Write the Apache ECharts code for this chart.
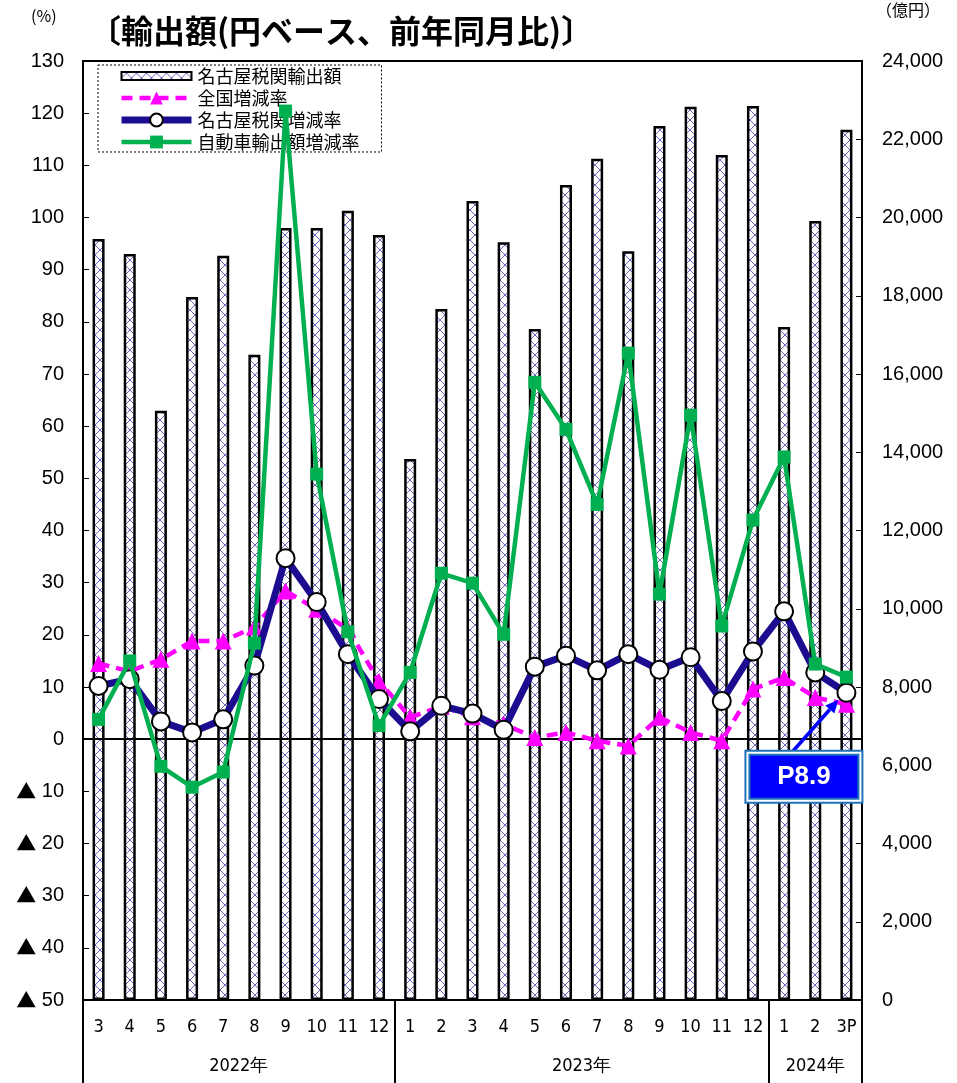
<!DOCTYPE html>
<html>
<head>
<meta charset="utf-8">
<style>
  html, body { margin: 0; padding: 0; background: #fff; }
  #chart { width: 957px; height: 1083px; }
</style>
<script src="https://cdn.jsdelivr.net/npm/echarts@6/dist/echarts.min.js"></script>
</head>
<body>
<div id="chart"></div>
<script>
// Months shown on the category axis, grouped by year below
const months = ['3','4','5','6','7','8','9','10','11','12',
                '1','2','3','4','5','6','7','8','9','10','11','12',
                '1','2','3P'];
const yearLabels = ['2022年', '2023年', '2024年'];
const monthsPerYear = [10, 12, 3];

// 名古屋税関輸出額 (億円)
const exportAmount = [19450, 19070, 15060, 17970, 19020, 16490, 19730, 19730, 20170, 19550,
                      13830, 17660, 20420, 19370, 17150, 20830, 21500, 19140, 22340, 22830, 21600, 22850,
                      17200, 19910, 22240];
// 全国増減率 (%)
const nationalRate = [14.5, 13.0, 15.3, 18.8, 18.8, 21.5, 28.4, 24.9, 21.1, 11.1,
                      4.2, 6.3, 4.3, 2.9, 0.3, 1.3, -0.3, -1.3, 4.2, 1.3, -0.3, 9.6,
                      11.8, 8.0, 6.7];
// 名古屋税関増減率 (%)
const nagoyaRate = [10.2, 11.5, 3.4, 1.3, 3.8, 14.1, 34.7, 26.3, 16.3, 7.7,
                    1.5, 6.4, 4.9, 1.8, 13.9, 16.0, 13.2, 16.3, 13.3, 15.7, 7.3, 16.8,
                    24.5, 12.8, 8.9];
// 自動車輸出額増減率 (%)
const carRate = [3.8, 15.0, -5.2, -9.2, -6.3, 18.4, 120.4, 50.8, 20.6, 2.6,
                 12.8, 31.8, 29.9, 20.1, 68.4, 59.4, 45.0, 74.0, 27.8, 62.1, 21.7, 42.0,
                 54.1, 14.4, 11.9];

const latestLabel = 'P' + nagoyaRate[nagoyaRate.length - 1].toFixed(1);

// Year group boundaries and centres along the month axis
const yearBounds = [0];
const yearCentres = [];
monthsPerYear.forEach(function (n) {
  const start = yearBounds[yearBounds.length - 1];
  yearCentres.push(start + n / 2);
  yearBounds.push(start + n);
});

// Light cross-hatch fill for the bars
function hatchPattern() {
  const s = 10;
  const c = document.createElement('canvas');
  c.width = s; c.height = s;
  const g = c.getContext('2d');
  g.fillStyle = '#ffffff';
  g.fillRect(0, 0, s, s);
  g.fillStyle = '#6a68bb';
  for (let i = 0; i < s; i++) {
    g.fillRect(i, i, 1, 1);
    g.fillRect(s - 1 - i, i, 1, 1);
  }
  return c;
}

const numFont = '"Liberation Sans", Arial, sans-serif';
const narrowFont = '"Liberation Sans Narrow", "DejaVu Sans Condensed", "Liberation Sans", sans-serif';
const cjkFont = '"Noto Sans CJK JP", "Noto Sans", sans-serif';

// Legend swatch for the bars: a thin strip centred in the taller icon box
const barLegendIcon = 'path://M0,0 M0,4 L70,4 L70,12 L0,12 Z M70,16';

const chart = echarts.init(document.getElementById('chart'), null, { renderer: 'canvas' });

const corner = [
  { type: 'text', left: 31, top: 8,
    style: { text: '(%)', fontFamily: cjkFont, fontSize: 16, fill: '#000' } },
  { type: 'text', left: 876, top: 2,
    style: { text: '（億円）', fontFamily: cjkFont, fontSize: 16, fill: '#000' } }
];

const option = {
  animation: false,
  backgroundColor: '#ffffff',
  textStyle: { fontFamily: cjkFont, color: '#000' },
  title: {
    text: '〔輸出額(円ベース、前年同月比)〕',
    left: 84, top: 10,
    textStyle: { fontFamily: cjkFont, fontSize: 32, fontWeight: 'bold', color: '#000' }
  },
  grid: {
    left: 83, right: 95, top: 61, bottom: 83,
    show: true, borderColor: '#000', borderWidth: 2
  },
  legend: {
    orient: 'vertical',
    left: 98, top: 65,
    padding: [2, 22, 1, 20],
    itemWidth: 70, itemHeight: 16, itemGap: 4,
    borderColor: '#000', borderWidth: 1, borderType: [2, 2],
    backgroundColor: '#fff',
    lineStyle: { width: 'inherit', type: 'inherit' },
    textStyle: { fontFamily: cjkFont, fontSize: 18, lineHeight: 16, color: '#000', padding: [0, 0, 0, 1] },
    data: [
      { name: '名古屋税関輸出額', icon: barLegendIcon },
      '全国増減率', '名古屋税関増減率', '自動車輸出額増減率'
    ]
  },
  xAxis: [
    {
      type: 'category',
      data: months,
      position: 'bottom',
      axisLine: { show: true, lineStyle: { color: '#000', width: 2 } },
      axisTick: { show: false },
      axisLabel: { margin: 18, fontFamily: narrowFont, fontSize: 18, color: '#000' },
      splitLine: { show: false }
    },
    {
      // Year groups under the months, with separators between them
      type: 'value',
      position: 'bottom',
      min: 0, max: months.length,
      axisLine: { show: false },
      axisTick: {
        show: true, length: 83, customValues: yearBounds,
        lineStyle: { color: '#000', width: 2 }
      },
      axisLabel: {
        show: true, margin: 57, customValues: yearCentres,
        fontFamily: narrowFont, fontSize: 18, color: '#000',
        formatter: function (v) {
          const i = yearCentres.indexOf(v);
          return i >= 0 ? yearLabels[i] : '';
        }
      },
      splitLine: { show: false }
    }
  ],
  yAxis: [
    {
      type: 'value',
      min: -50, max: 130, interval: 10,
      axisLine: { show: true, lineStyle: { color: '#000', width: 2 } },
      axisTick: { show: true, inside: true, length: 6, lineStyle: { color: '#000', width: 1 } },
      axisLabel: {
        margin: 19, fontFamily: numFont, fontSize: 20, color: '#000',
        formatter: function (v) { return v < 0 ? '{tri|▲} ' + (-v) : String(v); },
        rich: { tri: { fontFamily: cjkFont, fontSize: 20, color: '#000' } }
      },
      splitLine: { show: false }
    },
    {
      type: 'value',
      min: 0, max: 24000, interval: 2000,
      axisLine: { show: true, lineStyle: { color: '#000', width: 2 } },
      axisTick: { show: true, inside: true, length: 6, lineStyle: { color: '#000', width: 1 } },
      axisLabel: {
        margin: 20, fontFamily: numFont, fontSize: 20, color: '#000',
        formatter: function (v) { return v.toLocaleString('en-US'); }
      },
      splitLine: { show: false }
    }
  ],
  series: [
    {
      name: '名古屋税関輸出額',
      type: 'bar',
      xAxisIndex: 0, yAxisIndex: 1,
      data: exportAmount,
      barWidth: 12,
      z: 1,
      itemStyle: {
        color: { image: hatchPattern(), repeat: 'repeat' },
        borderColor: '#000', borderWidth: 2.5
      }
    },
    {
      name: '全国増減率',
      type: 'line',
      xAxisIndex: 0, yAxisIndex: 0,
      data: nationalRate,
      z: 3,
      symbol: 'triangle', symbolSize: 17,
      lineStyle: { color: '#ff00ff', width: 4.5, type: [11, 7] },
      itemStyle: { color: '#ff00ff', borderWidth: 0 },
      markLine: {
        silent: true, symbol: 'none', z: 2,
        label: { show: false },
        lineStyle: { color: '#000', width: 2, type: 'solid' },
        data: [{ yAxis: 0 }]
      }
    },
    {
      name: '名古屋税関増減率',
      type: 'line',
      xAxisIndex: 0, yAxisIndex: 0,
      data: nagoyaRate,
      z: 4,
      symbol: 'circle', symbolSize: 18,
      lineStyle: { color: '#1b0c90', width: 7 },
      itemStyle: { color: '#ffffff', borderColor: '#000', borderWidth: 2 }
    },
    {
      name: '自動車輸出額増減率',
      type: 'line',
      xAxisIndex: 0, yAxisIndex: 0,
      data: carRate,
      z: 5,
      symbol: 'rect', symbolSize: 13,
      lineStyle: { color: '#00b050', width: 4.5 },
      itemStyle: { color: '#00b050', borderWidth: 0 }
    }
  ],
  graphic: corner
};

chart.setOption(option);

// Callout for the latest 名古屋税関増減率 value, placed relative to its point
const last = nagoyaRate.length - 1;
const pt = chart.convertToPixel({ seriesIndex: 2 }, [last, nagoyaRate[last]]);
const tip = [pt[0] - 8, pt[1] + 7];
const tail = [pt[0] - 54, pt[1] + 59];
const dx = tip[0] - tail[0], dy = tip[1] - tail[1];
const len = Math.sqrt(dx * dx + dy * dy);
const ux = dx / len, uy = dy / len;
const headLen = 13, headHalf = 6;
const base = [tip[0] - ux * headLen, tip[1] - uy * headLen];
const boxRight = pt[0] + 16, boxTop = pt[1] + 58;
const boxW = 117, boxH = 52;

chart.setOption({
  graphic: corner.concat([
    { type: 'line', z: 100,
      shape: { x1: tail[0], y1: tail[1], x2: base[0], y2: base[1] },
      style: { stroke: '#0000ff', lineWidth: 3.5 } },
    { type: 'polygon', z: 100,
      shape: { points: [tip,
        [base[0] - uy * headHalf, base[1] + ux * headHalf],
        [base[0] + uy * headHalf, base[1] - ux * headHalf]] },
      style: { fill: '#0000ff' } },
    { type: 'rect', z: 101,
      shape: { x: boxRight - boxW, y: boxTop, width: boxW, height: boxH },
      style: { fill: '#ffffff', stroke: '#1f72b8', lineWidth: 2 } },
    { type: 'rect', z: 102,
      shape: { x: boxRight - boxW + 4, y: boxTop + 4, width: boxW - 8, height: boxH - 8 },
      style: { fill: '#0000ff', stroke: '#1f72b8', lineWidth: 2 } },
    { type: 'text', z: 103,
      x: boxRight - boxW / 2, y: boxTop + boxH / 2,
      style: { text: latestLabel, fontFamily: numFont, fontSize: 26, fontWeight: 'bold',
               fill: '#ffffff', align: 'center', verticalAlign: 'middle' } }
  ])
});
</script>
</body>
</html>
